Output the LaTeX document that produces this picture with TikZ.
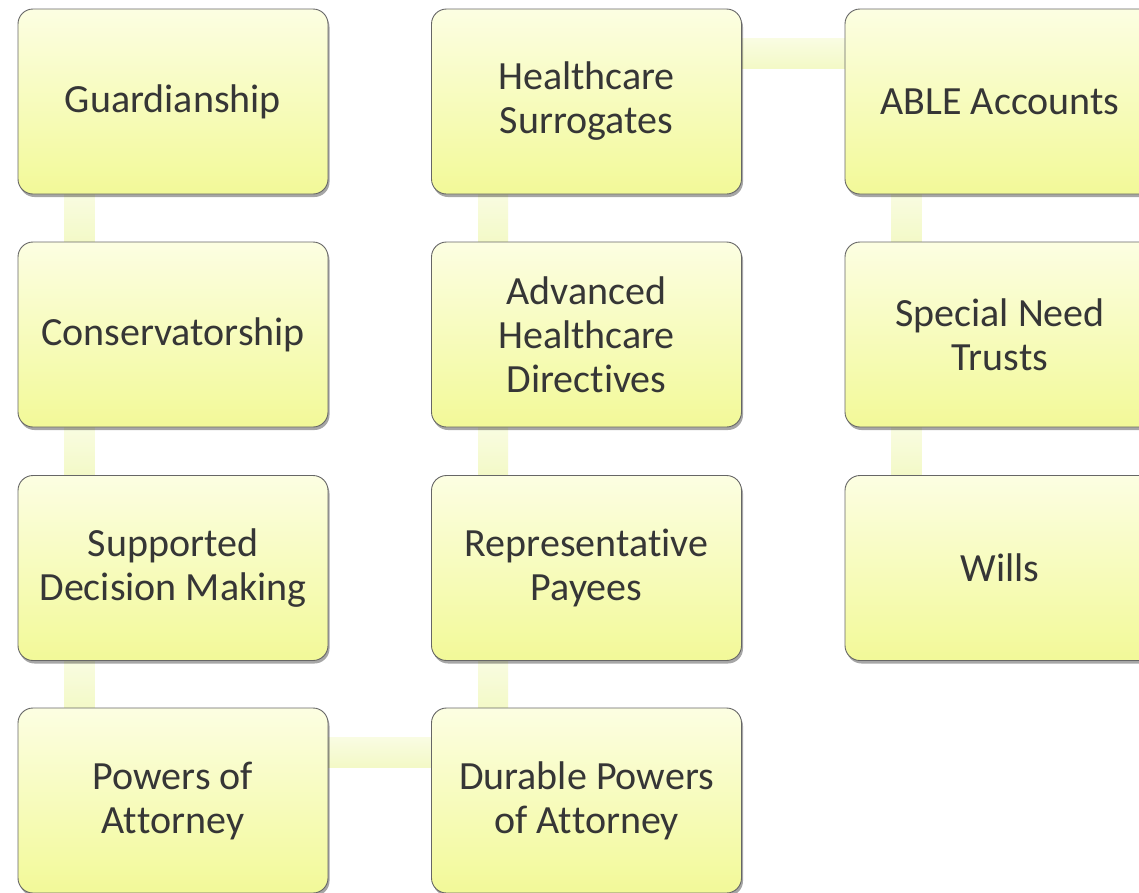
\documentclass[tikz,border=0pt]{standalone}
\usepackage{fontspec}
\setmainfont[Ligatures={NoCommon,NoRequired,NoContextual}]{Carlito}
\usetikzlibrary{calc,shadows}
\pgfdeclarelayer{background}
\pgfsetlayers{background,main}
\newcommand{\nolig}{\kern0pt }
\definecolor{boxtop}{HTML}{FCFEE2}
\definecolor{boxbot}{HTML}{F2F998}
\definecolor{linktop}{HTML}{F9FCE2}
\definecolor{linkbot}{HTML}{F3F9C6}
\definecolor{txt}{HTML}{363636}
\definecolor{edge}{HTML}{666666}
\tikzset{
  item/.style={rectangle, rounded corners=15pt, minimum width=310pt, minimum height=185pt,
    inner sep=0pt, align=center, text=txt, draw=edge, line width=0.9pt,
    top color=boxtop, bottom color=boxbot,
    drop shadow={shadow xshift=1.5pt, shadow yshift=-3pt, opacity=0.35, fill=black},
    font=\fontsize{40}{44}\selectfont},
  link/.style={top color=linktop, bottom color=linkbot, draw=none}
}
\begin{document}
\begin{tikzpicture}[x=1pt,y=-1pt]
\useasboundingbox (0,0) rectangle (1139,892);
\clip (0,0) rectangle (1139,892);
\begin{pgfonlayer}{background}
\fill[white] (0,0) rectangle (1139,892);
\end{pgfonlayer}
% nodes
\node[item] (g)   at (173,101.5)   {Guardianship};
\node[item] (c)   at (173,334.5)   {Conservatorship};
\node[item] (s)   at (173,568)     {Supported\\Decision Making};
\node[item] (p)   at (173,800.5)   {Powers of\\At\nolig torney};
\node[item] (hs)  at (586.5,101.5) {Healthcare\\Surrogates};
\node[item] (ahd) at (586.5,334.5) {Advanced\\Healthcare\\Direct\nolig ives};
\node[item] (rp)  at (586.5,568)   {Representat\nolig ive\\Payees};
\node[item] (dp)  at (586.5,800.5) {Durable Powers\\of At\nolig torney};
\node[item] (able) at (1000,101.5) {ABLE Accounts};
\node[item] (snt)  at (1000,334.5) {Special Need\\Trusts};
\node[item] (w)    at (1000,568)   {Wills};
% connectors (behind boxes)
\begin{pgfonlayer}{background}
\foreach \a/\b in {g/c,c/s,s/p,hs/ahd,ahd/rp,rp/dp,able/snt,snt/w}{
  \path[link] ($(\a.south west)+(47,-2)$) rectangle ($(\b.north west)+(77,2)$);
}
\foreach \a/\b in {hs/able,p/dp}{
  \path[link] ($(\a.north east)+(-2,30)$) rectangle ($(\b.north west)+(2,60)$);
}
\end{pgfonlayer}
\end{tikzpicture}
\end{document}
